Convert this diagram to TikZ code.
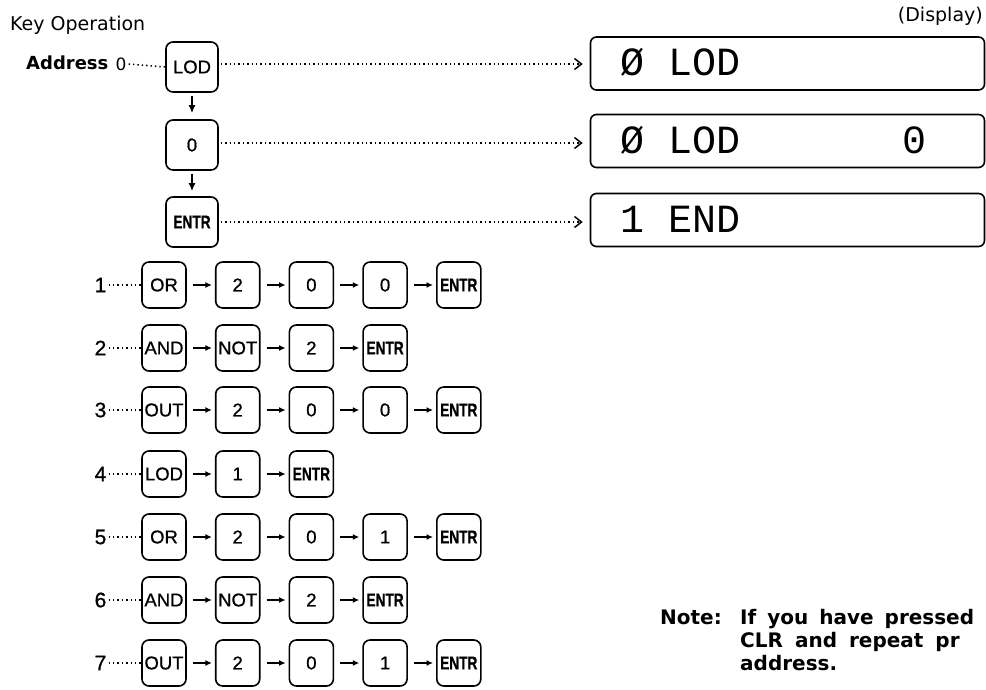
\documentclass[tikz,border=0pt]{standalone}
\usepackage{fontspec}
\setmainfont{DejaVu Sans}
\newfontfamily\keyfam[FakeBold=0.8]{Liberation Sans}
\newfontfamily\lcdfam{Liberation Mono}
\usetikzlibrary{arrows.meta}
\newcommand\entr{\scalebox{0.74}[1]{\bfseries ENTR}}
\tikzset{
  keybox/.style={draw, line width=1.6pt, rounded corners=7pt, minimum width=44pt,
    minimum height=46pt, inner sep=0pt, font=\keyfam\fontsize{18.5}{18.5}\selectfont},
  bigkey/.style={keybox, minimum width=52pt, minimum height=50pt},
  dispbox/.style={draw, line width=1.6pt, rounded corners=6pt, inner sep=0pt,
    minimum width=394pt, minimum height=53pt},
  dots/.style={line width=1.5pt, dash pattern=on 1.4pt off 3pt},
  karrow/.style={line width=1.6pt, -{Latex[length=6.5pt,width=6pt]}},
  varrow/.style={line width=1.8pt, -{Latex[length=8pt,width=7pt]}},
  darrow/.style={dots, -{Straight Barb[length=7pt,width=11pt,line width=1.5pt]}},
  lcd/.style={font=\lcdfam\fontsize{40}{40}\selectfont, inner sep=0pt},
  lbl/.style={font=\fontsize{19}{19}\selectfont, inner sep=0pt},
  num/.style={font=\keyfam\fontsize{21}{21}\selectfont, inner sep=0pt},
  notetxt/.style={font=\bfseries\fontsize{20}{20}\selectfont, inner sep=0pt}
}
\begin{document}
\begin{tikzpicture}[x=1pt,y=-1pt]
\useasboundingbox (0,0) rectangle (986,689);
\clip (0,0) rectangle (986,689);

% headings
\node[lbl, anchor=west] (keyop) at (10,25) {Key Operation};
\node[lbl, anchor=east] (dsp) at (983,16) {(Display)};

% top column
\node[bigkey] (k0) at (192,67) {LOD};
\node[bigkey] (k1) at (192,145) {0};
\node[bigkey] (k2) at (192,222) {\entr};
\draw[varrow] ([yshift=-3pt]k0.south) -- ([yshift=6pt]k1.north);
\draw[varrow] ([yshift=-3pt]k1.south) -- ([yshift=5pt]k2.north);

\node[font=\bfseries\fontsize{18}{18}\selectfont, inner sep=0pt, anchor=west] (addr) at (26,63) {Address};
\node[font=\fontsize{17}{17}\selectfont, inner sep=0pt] (a0) at (121,64) {0};
\draw[dots] ([xshift=2pt]a0.east) -- (k0.west);

% displays
\node[dispbox] (d1) at (787.5,63.5) {};
\node[dispbox] (d2) at (787.5,141) {};
\node[dispbox] (d3) at (787.5,220) {};
\draw[darrow, shorten >=7pt] ([xshift=2pt]k0.east |- 0,64) -- (d1.west |- 0,64);
\draw[darrow, shorten >=7pt] ([xshift=2pt]k1.east |- 0,143) -- (d2.west |- 0,143);
\draw[darrow, shorten >=7pt] ([xshift=2pt]k2.east |- 0,222) -- (d3.west |- 0,222);
\node[lcd, anchor=west] (t1) at (620,62) {Ø LOD};
\node[lcd, anchor=west] (t2) at (620,140) {Ø LOD};
\node[lcd] (t2b) at (914,140) {0};
\node[lcd, anchor=west] (t3) at (620,219) {1 END};

% key rows
\foreach \r/\y/\lst in {1/285/{OR,2,0,0,\entr},2/348/{AND,NOT,2,\entr},3/410/{OUT,2,0,0,\entr},4/474/{LOD,1,\entr},5/537/{OR,2,0,1,\entr},6/600/{AND,NOT,2,\entr},7/663/{OUT,2,0,1,\entr}}{
  \node[num] (n\r) at (100.5,\y) {\r};
  \foreach \k [count=\c] in \lst {
    \node[keybox] (r\r-\c) at ({164+73.7*(\c-1)},\y) {\k};
    \ifnum\c>1
      \pgfmathtruncatemacro\p{\c-1}
      \draw[karrow] ([xshift=6pt]r\r-\p.east) -- ([xshift=-3pt]r\r-\c.west);
    \fi
  }
  \draw[dots] ([xshift=2pt]n\r.east) -- (r\r-1.west);
}

% note
\begin{scope}[every node/.style={notetxt, anchor=base west}]
\node (note) at (660,624) {Note:};
\node (l1) at (740,624) {If\hspace{11pt}you\hspace{11pt}have\hspace{11pt}pressed};
\node (l2) at (740,647) {CLR\hspace{12pt}and\hspace{12pt}repeat\hspace{12pt}pr};
\node (l3) at (740,670) {address.};
\end{scope}
\end{tikzpicture}
\end{document}
